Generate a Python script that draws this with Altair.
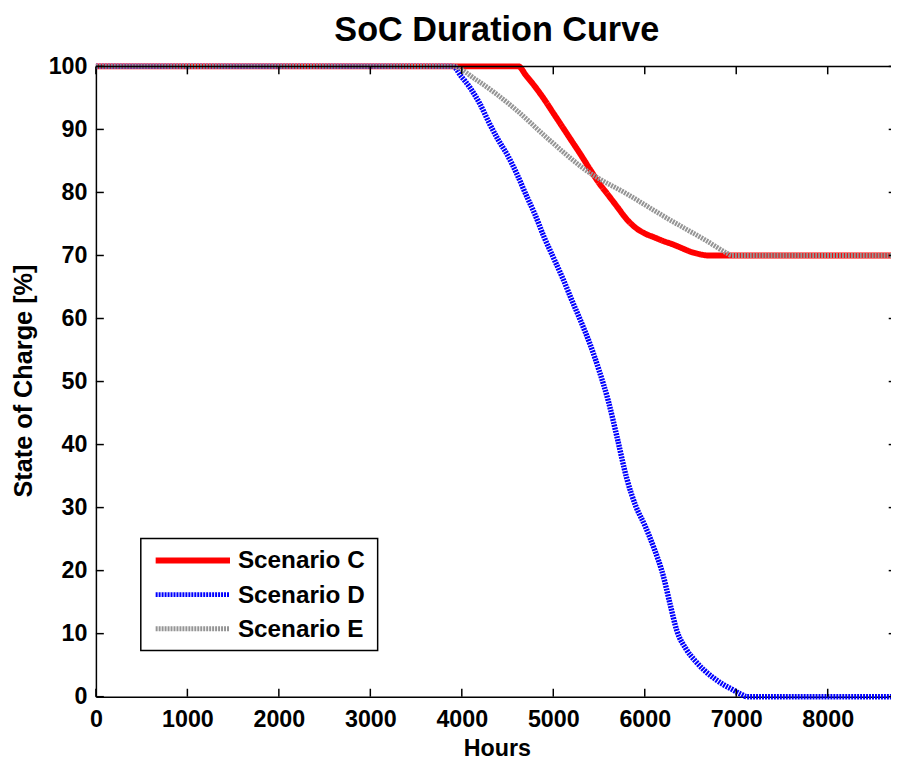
import altair as alt
import pandas as pd

# ---- data ----
hours_C = [0, 4620, 4700, 4800, 4900, 5000, 5100, 5200, 5300, 5400, 5500, 5600, 5700,
           5800, 5900, 6000, 6100, 6200, 6300, 6400, 6500, 6600, 6700, 8760]
soc_C = [100, 100, 98.6, 96.8, 94.8, 92.6, 90.4, 88.2, 86.0, 83.7, 81.5, 79.6, 77.7,
         75.8, 74.4, 73.5, 72.9, 72.3, 71.8, 71.2, 70.6, 70.2, 70, 70]

hours_D = [0, 3900, 4000, 4100, 4200, 4300, 4400, 4500, 4600, 4700, 4800, 4900, 5000,
           5100, 5200, 5300, 5400, 5500, 5600, 5700, 5800, 5900, 6000, 6100, 6200,
           6280, 6350, 6450, 6550, 6650, 6750, 6850, 6950, 7050, 7120, 8760]
soc_D = [100, 100, 98.3, 96.4, 94.0, 91.0, 88.3, 85.9, 83.0, 79.7, 76.5, 72.9, 69.7,
         66.5, 63.0, 59.6, 56.0, 51.8, 47.0, 41.0, 34.8, 30.3, 27.2, 23.6, 19.3,
         14.5, 10.5, 7.6, 5.7, 4.2, 3.0, 2.0, 1.2, 0.4, 0, 0]

hours_E = [0, 3900, 4154, 4586, 4944, 5378, 5812, 6245, 6678, 6895, 6950, 8760]
soc_E = [100, 100, 97.9, 93.2, 88.5, 83.3, 79.7, 75.9, 72.3, 70.4, 70, 70]

series = ["Scenario C", "Scenario D", "Scenario E"]
colors = ["#ff0000", "#0000ff", "#959595"]
dashes = [[1, 0], [2, 1], [2, 1]]
widths = [6, 5, 5]

x_ticks = [0, 1000, 2000, 3000, 4000, 5000, 6000, 7000, 8000]
y_ticks = [0, 10, 20, 30, 40, 50, 60, 70, 80, 90, 100]

# ---- layout ----
W, H = 800, 636
XMAX = 8667
FONT = "Liberation Sans"
FS = 23.5

rows = []
for name, hs, vs in [(series[0], hours_C, soc_C), (series[1], hours_D, soc_D), (series[2], hours_E, soc_E)]:
    for h, v in zip(hs, vs):
        rows.append({"series": name, "hours": h, "soc": v})
df = pd.DataFrame(rows)

xscale = alt.Scale(domain=[0, XMAX], nice=False, zero=False)
yscale = alt.Scale(domain=[0, 100], nice=False)
x_axis = alt.Axis(values=x_ticks, format="d", title="Hours", labelFlush=False,
                  labelPadding=11, titleX=404.5, titleY=59,
                  titleBaseline="alphabetic", titleAlign="center")
y_axis = alt.Axis(values=y_ticks, format="d", title="State of Charge [%]", labelPadding=9,
                  titleX=-64.7, titleY=H / 2 - 1, titleAngle=270, titleFontSize=25.5,
                  titleBaseline="alphabetic", titleAlign="center")

lines = alt.Chart(df).mark_line(interpolate="monotone", strokeCap="butt").encode(
    x=alt.X("hours:Q", scale=xscale, axis=x_axis),
    y=alt.Y("soc:Q", scale=yscale, axis=y_axis),
    color=alt.Color("series:N", scale=alt.Scale(domain=series, range=colors), legend=None),
    strokeDash=alt.StrokeDash("series:N", scale=alt.Scale(domain=series, range=dashes), legend=None),
    strokeWidth=alt.StrokeWidth("series:N", scale=alt.Scale(domain=series, range=widths), legend=None),
    order=alt.Order("hours:Q"),
)

xt = pd.DataFrame({"hours": x_ticks})
yt = pd.DataFrame({"soc": y_ticks})

bottom_ticks = alt.Chart(xt).mark_rule(color="black", strokeWidth=1.5).encode(
    x=alt.X("hours:Q", scale=xscale, axis=x_axis), y=alt.value(H), y2=alt.value(H - 8))
top_ticks = alt.Chart(xt).mark_rule(color="black", strokeWidth=1.5).encode(
    x=alt.X("hours:Q", scale=xscale, axis=x_axis), y=alt.value(0), y2=alt.value(8))
left_ticks = alt.Chart(yt).mark_rule(color="black", strokeWidth=1.5).encode(
    y=alt.Y("soc:Q", scale=yscale, axis=y_axis), x=alt.value(0), x2=alt.value(8))
right_ticks = alt.Chart(yt).mark_rule(color="black", strokeWidth=1.5).encode(
    y=alt.Y("soc:Q", scale=yscale, axis=y_axis), x=alt.value(W), x2=alt.value(W + 8))
top_border = alt.Chart(pd.DataFrame({"a": [0]})).mark_rule(color="black", strokeWidth=1.5).encode(
    x=alt.value(0), x2=alt.value(W + 20), y=alt.value(0))

# ---- legend ----
lx0, lx1, ly0, ly1 = 45.3, 284.3, 476.5, 589.5
legend_box = alt.Chart(pd.DataFrame({"a": [0]})).mark_rect(
    fill="white", stroke="black", strokeWidth=1.5).encode(
    x=alt.value(lx0), x2=alt.value(lx1), y=alt.value(ly0), y2=alt.value(ly1))
legend_layers = [legend_box]
for i, name in enumerate(series):
    yy = 498.5 + i * 34.5
    ld = pd.DataFrame({"series": [name]})
    legend_layers.append(
        alt.Chart(ld).mark_rule(color=colors[i], strokeWidth=widths[i],
                                strokeDash=dashes[i], strokeCap="butt").encode(
            x=alt.value(60.3), x2=alt.value(135.3), y=alt.value(yy)))
    legend_layers.append(
        alt.Chart(ld).mark_text(align="left", baseline="middle", font=FONT,
                                fontSize=24.5, fontWeight="bold", color="black").encode(
            x=alt.value(143.3), y=alt.value(yy + 1), text="series:N"))

chart = alt.layer(
    lines, top_border, bottom_ticks, top_ticks, left_ticks, right_ticks, *legend_layers
).properties(
    width=W, height=H,
    title=alt.TitleParams("SoC Duration Curve", font=FONT, fontSize=34.5, fontWeight="bold",
                          color="black", baseline="alphabetic", offset=10, dy=31, dx=4.5,
                          anchor="middle"),
    autosize=alt.AutoSizeParams(type="none"),
    padding={"left": 88.7, "top": 55.5, "right": 2.3, "bottom": 63.5},
).configure_view(stroke=None).configure_axis(
    grid=False, ticks=False, domainColor="black", domainWidth=1.5,
    labelFont=FONT, labelFontSize=FS, labelFontWeight="bold", labelColor="black",
    titleFont=FONT, titleFontSize=FS, titleFontWeight="bold", titleColor="black",
)

chart.save("out.html", embed_options={"renderer": "svg", "actions": False})
